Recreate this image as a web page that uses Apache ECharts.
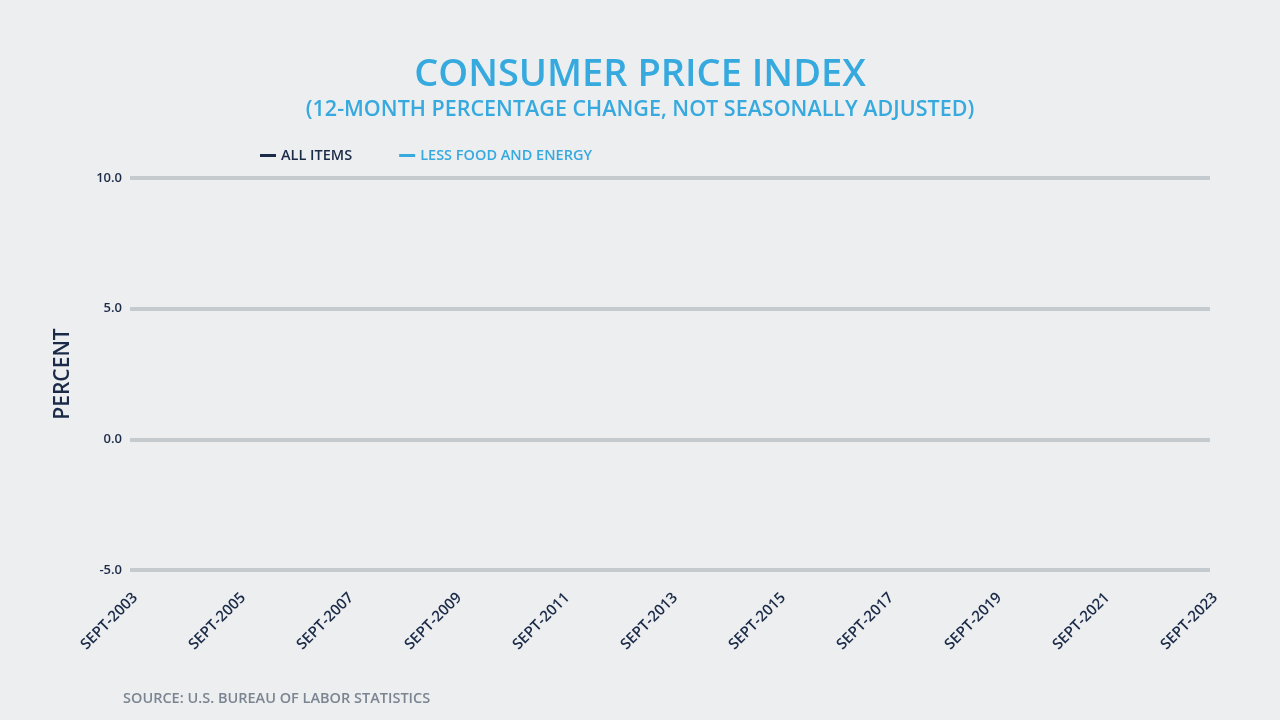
<!DOCTYPE html>
<html>
<head>
<meta charset="utf-8">
<script src="https://cdn.jsdelivr.net/npm/echarts@6/dist/echarts.min.js"></script>
<style>
  html, body { margin: 0; padding: 0; background: #eceef0; }
  #chart { width: 1280px; height: 720px; }
</style>
</head>
<body>
<div id="chart"></div>
<script>
// x categories shown on the axis
const months = ['SEPT-2003', 'SEPT-2005', 'SEPT-2007', 'SEPT-2009', 'SEPT-2011', 'SEPT-2013',
  'SEPT-2015', 'SEPT-2017', 'SEPT-2019', 'SEPT-2021', 'SEPT-2023']
// the reference frame shows no line drawn yet, so both series are empty
const allItems = []
const lessFoodEnergy = []
const yTicks = [-5, 0, 5, 10]

const navy = '#1b2a47'
const blue = '#36a9de'
const font = 'Open Sans'

const chart = echarts.init(document.getElementById('chart'))
chart.setOption({
  backgroundColor: '#eceef0',
  animation: false,
  title: [{
    text: 'CONSUMER PRICE INDEX',
    left: 'center',
    top: 51,
    textStyle: { color: blue, fontFamily: font, fontWeight: 600, fontSize: 38 }
  }, {
    text: '(12-MONTH PERCENTAGE CHANGE, NOT SEASONALLY ADJUSTED)',
    left: 'center',
    top: 94,
    textStyle: { color: blue, fontFamily: font, fontWeight: 600, fontSize: 21.5 }
  }],
  legend: {
    left: 255,
    top: 143,
    itemWidth: 16,
    itemHeight: 3,
    itemGap: 47,
    icon: 'rect',
    data: [
      { name: 'ALL ITEMS', textStyle: { color: navy } },
      { name: 'LESS FOOD AND ENERGY', textStyle: { color: blue } }
    ],
    textStyle: { fontFamily: font, fontWeight: 600, fontSize: 14.5 }
  },
  grid: { left: 130, right: 70, top: 178, bottom: 150, containLabel: false },
  xAxis: {
    type: 'category',
    data: months,
    boundaryGap: false,
    axisLine: { show: false },
    axisTick: { show: false },
    axisLabel: {
      rotate: 45,
      margin: 20,
      verticalAlign: 'top',
      color: navy,
      fontFamily: font,
      fontWeight: 600,
      fontSize: 15,
      interval: 0
    }
  },
  yAxis: {
    type: 'value',
    min: yTicks[0],
    max: yTicks[yTicks.length - 1],
    interval: 5,
    name: 'PERCENT',
    nameLocation: 'middle',
    nameGap: 56,
    nameTextStyle: { color: navy, fontFamily: font, fontWeight: 600, fontSize: 21 },
    axisLine: { show: false },
    axisTick: { show: false },
    axisLabel: {
      margin: 8,
      color: navy,
      fontFamily: font,
      fontWeight: 600,
      fontSize: 13,
      formatter: v => v.toFixed(1)
    },
    splitLine: { lineStyle: { color: '#c4cacd', width: 4 } }
  },
  graphic: [{
    type: 'text',
    left: 123,
    top: 691,
    style: {
      text: 'SOURCE: U.S. BUREAU OF LABOR STATISTICS',
      fill: '#7b8591',
      font: '600 14.5px "Open Sans"'
    }
  }],
  series: [{
    name: 'ALL ITEMS',
    type: 'line',
    data: allItems,
    showSymbol: false,
    itemStyle: { color: navy },
    lineStyle: { color: navy, width: 3 }
  }, {
    name: 'LESS FOOD AND ENERGY',
    type: 'line',
    data: lessFoodEnergy,
    showSymbol: false,
    itemStyle: { color: blue },
    lineStyle: { color: blue, width: 3 }
  }]
})
</script>
</body>
</html>
